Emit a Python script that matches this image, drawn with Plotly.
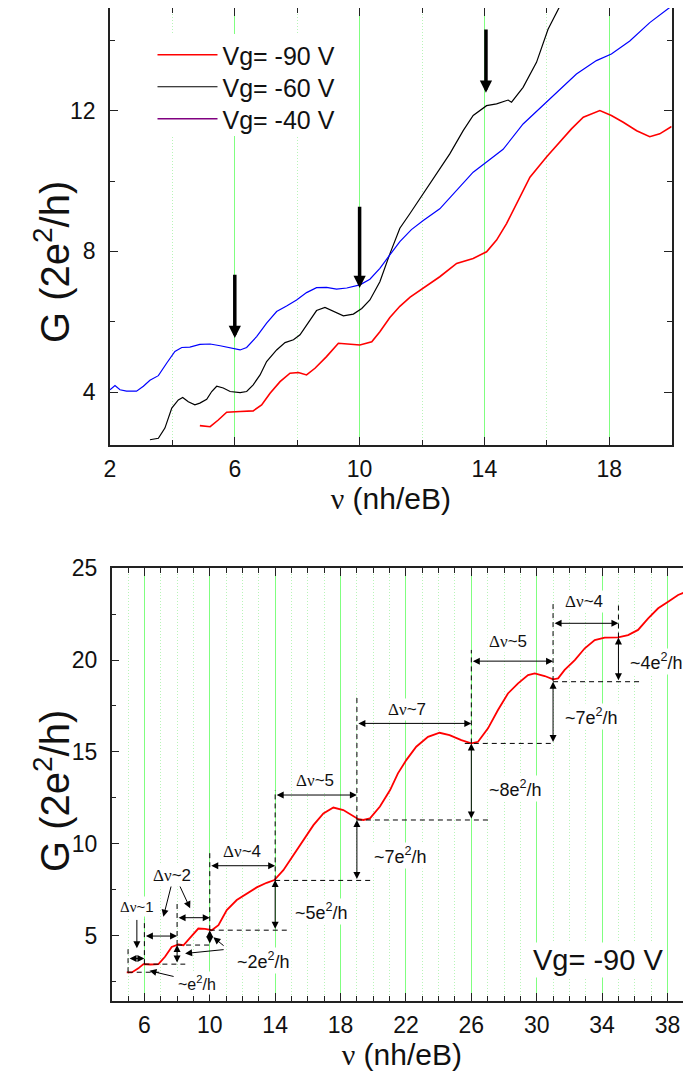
import plotly.graph_objects as go

# ---------------- top panel data (nu, G in 2e^2/h) ----------------
red_top_x = [4.88, 5.21, 5.47, 5.74, 6.17, 6.59, 6.86, 7.13, 7.45, 7.77, 8.04, 8.30, 8.57, 8.94, 9.32,
             9.64, 10.01, 10.39, 10.65, 10.97, 11.29, 11.62, 12.04, 12.57, 13.11, 13.64, 14.07, 14.39,
             14.71, 15.03, 15.46, 15.99, 16.42, 16.79, 17.17, 17.70, 18.07, 18.45, 18.88, 19.30, 19.62, 20.0]
red_top_y = [3.05, 3.02, 3.21, 3.43, 3.45, 3.47, 3.64, 3.97, 4.30, 4.54, 4.56, 4.49, 4.68, 5.01, 5.39,
             5.37, 5.34, 5.43, 5.72, 6.12, 6.44, 6.70, 6.95, 7.28, 7.66, 7.80, 7.99, 8.32,
             8.79, 9.36, 10.11, 10.68, 11.10, 11.48, 11.81, 12.00, 11.86, 11.67, 11.43, 11.26, 11.34, 11.55]

black_top_x = [3.28, 3.55, 3.76, 3.98, 4.19, 4.33, 4.51, 4.72, 4.88, 5.10, 5.26, 5.42, 5.63, 5.85, 6.17,
               6.38, 6.59, 6.81, 7.02, 7.34, 7.61, 7.88, 8.09, 8.36, 8.62, 8.89, 9.16, 9.48, 9.80, 10.07,
               10.33, 10.65, 10.97, 11.29, 11.61, 12.04, 12.47, 12.89, 13.32, 13.64, 14.07, 14.39, 14.76,
               14.87, 15.24, 15.67, 16.04, 16.42]
black_top_y = [2.65, 2.69, 2.98, 3.55, 3.78, 3.85, 3.73, 3.64, 3.69, 3.80, 4.02, 4.17, 4.12, 4.02, 3.99,
               4.02, 4.21, 4.49, 4.87, 5.20, 5.41, 5.49, 5.63, 6.00, 6.32, 6.41, 6.29, 6.17, 6.22, 6.38,
               6.62, 7.14, 7.93, 8.66, 9.07, 9.64, 10.21, 10.77, 11.43, 11.86, 12.14, 12.19, 12.30,
               12.24, 12.66, 13.37, 14.31, 14.97]

blue_top_x = [2.00, 2.16, 2.32, 2.53, 2.85, 3.07, 3.28, 3.55, 3.82, 4.08, 4.30, 4.56, 4.88, 5.21, 5.53,
              5.85, 6.17, 6.38, 6.70, 7.02, 7.34, 7.66, 7.98, 8.30, 8.62, 8.94, 9.26, 9.59, 10.01, 10.33,
              10.65, 10.97, 11.29, 11.66, 12.04, 12.57, 13.11, 13.64, 14.07, 14.60, 15.24, 16.10, 16.95,
              17.59, 18.07, 18.66, 19.30, 20.0]
blue_top_y = [4.07, 4.19, 4.07, 4.03, 4.03, 4.17, 4.34, 4.47, 4.83, 5.16, 5.27, 5.28, 5.36, 5.37, 5.32,
              5.25, 5.20, 5.27, 5.58, 5.96, 6.29, 6.45, 6.62, 6.83, 6.97, 6.98, 6.93, 6.96, 7.05, 7.21,
              7.52, 7.90, 8.28, 8.62, 8.88, 9.21, 9.73, 10.25, 10.54, 10.90, 11.62, 12.33, 13.04,
              13.42, 13.61, 13.98, 14.50, 14.97]

legend_names = ["Vg= -90 V", "Vg= -60 V", "Vg= -40 V"]

# thick arrows of the top panel: x, tail y, head y
top_arrow_x = [6.0, 10.0, 14.05]
top_arrow_from = [7.38, 9.31, 14.35]
top_arrow_to = [5.54, 6.96, 12.51]

# ---------------- bottom panel data (Vg = -90 V) ----------------
bot_x = [4.92, 5.23, 5.63, 5.94, 6.35, 6.86, 7.26, 7.67, 8.08, 8.39, 8.79, 9.30, 9.71, 10.12, 10.53,
         11.04, 11.65, 12.26, 12.87, 13.48, 13.95, 14.50, 15.11, 15.72, 16.34, 16.95, 17.56, 18.17,
         18.68, 19.09, 19.39, 19.80, 20.41, 21.03, 21.51, 22.02, 22.63, 23.35, 24.06, 24.67, 25.39,
         26.00, 26.41, 27.02, 27.63, 28.24, 28.86, 29.47, 29.88, 30.49, 31.00, 31.31, 31.71, 32.33,
         32.94, 33.55, 34.16, 34.98, 35.59, 36.20, 36.82, 37.43, 38.04, 38.65, 39.06, 39.5]
bot_y = [2.99, 2.99, 3.21, 3.44, 3.42, 3.44, 3.84, 4.38, 4.51, 4.47, 4.87, 5.38, 5.36, 5.29, 5.56,
         6.38, 6.93, 7.29, 7.62, 7.87, 8.02, 8.56, 9.38, 10.20, 11.01, 11.65, 11.97, 11.83,
         11.56, 11.33, 11.29, 11.38, 12.02, 12.92, 13.83, 14.55, 15.28, 15.82, 16.04, 15.91, 15.64,
         15.46, 15.55, 16.28, 17.28, 18.18, 18.73, 19.18, 19.27, 19.13, 18.95, 19.00, 19.46, 20.00,
         20.64, 21.09, 21.22, 21.23, 21.36, 21.64, 22.27, 22.82, 23.18, 23.54, 23.69, 23.63]

# dashed guide lines
dash_h_x0 = [4.98, 6.0, 8.0, 10.0, 14.0, 19.0, 25.6, 31.0]
dash_h_x1 = [6.9, 8.5, 10.0, 14.9, 20.0, 27.2, 31.0, 36.4]
dash_h_y = [3.0, 3.44, 4.48, 5.29, 8.0, 11.29, 15.46, 18.82]

dash_v_x = [5.0, 6.0, 8.0, 10.0, 14.0, 19.0, 26.0, 31.0, 35.0]
dash_v_y0 = [3.0, 3.44, 4.48, 5.29, 8.0, 11.29, 15.46, 18.85, 21.23]
dash_v_y1 = [4.3, 5.9, 6.85, 9.56, 12.92, 18.0, 20.55, 23.1, 23.1]

# double arrows (horizontal: delta nu, vertical: delta G)
dnu_x0 = [5.0, 6.0, 8.0, 10.0, 14.0, 19.0, 26.0, 31.0]
dnu_x1 = [6.0, 8.0, 10.0, 14.0, 19.0, 26.0, 31.0, 35.0]
dnu_y = [3.75, 4.97, 5.97, 8.80, 12.65, 16.55, 19.94, 22.0]

dg_x = [8.0, 10.0, 14.0, 19.0, 26.0, 31.0, 35.0]
dg_y0 = [3.45, 4.48, 5.29, 8.0, 11.29, 15.46, 18.82]
dg_y1 = [4.48, 5.29, 8.02, 11.29, 15.46, 18.82, 21.23]

# single pointer arrows: tail -> head
ptr_x0 = [5.54, 7.68, 8.09, 7.88, 10.94, 10.94]
ptr_y0 = [5.93, 7.84, 7.84, 2.75, 4.38, 4.24]
ptr_x1 = [5.54, 7.16, 8.80, 6.31, 10.22, 8.49]
ptr_y1 = [4.30, 6.02, 6.48, 3.08, 4.90, 4.02]

DN = '<span style="font-family:Liberation Serif">\u0394\u03bd</span>'
lab_text = [DN + "~1", DN + "~2", "~e<sup>2</sup>/h", "~2e<sup>2</sup>/h", DN + "~4", "~5e<sup>2</sup>/h",
            DN + "~5", "~7e<sup>2</sup>/h", DN + "~7", "~8e<sup>2</sup>/h", DN + "~5", "~7e<sup>2</sup>/h",
            DN + "~4", "~4e<sup>2</sup>/h", "Vg= -90 V"]
lab_x = [5.53, 7.68, 9.2, 13.28, 11.96, 16.85, 16.44, 21.64, 22.05, 28.68, 28.26, 33.36, 32.9, 37.34, 33.77]
lab_y = [6.56, 8.29, 2.39, 3.66, 9.56, 6.29, 13.46, 9.38, 17.28, 13.01, 20.99, 16.91, 23.18, 19.91, 3.66]
lab_size = [15, 17, 16, 18, 17, 18, 17, 18, 17, 18, 17, 18, 17, 18, 29]

y_title = "G (2e<sup>2</sup>/h)"
x_title = '<span style="font-family:Liberation Serif">\u03bd</span> (nh/eB)'

FONT = "Liberation Sans, Arial, sans-serif"

W, H = 691, 1077
OFF = 8  # page offset of the figure inside the html body


def dx(px):
    return (px - OFF) / W


def dy(py):
    return 1 - (py - OFF) / H


fig = go.Figure()
fig.add_trace(go.Scatter(x=red_top_x, y=red_top_y, mode="lines", name=legend_names[0], legend="legend",
                         line=dict(color="#ff0000", width=1.6), xaxis="x", yaxis="y"))
fig.add_trace(go.Scatter(x=black_top_x, y=black_top_y, mode="lines", name=legend_names[1], legend="legend2",
                         line=dict(color="#000000", width=1.2), xaxis="x", yaxis="y"))
fig.add_trace(go.Scatter(x=blue_top_x, y=blue_top_y, mode="lines", name=legend_names[2], showlegend=False,
                         line=dict(color="#0000ff", width=1.2), xaxis="x", yaxis="y"))
fig.add_trace(go.Scatter(x=[None], y=[None], mode="lines", name=legend_names[2], legend="legend3",
                         line=dict(color="#800080", width=1.5), xaxis="x", yaxis="y"))
fig.add_trace(go.Scatter(x=bot_x, y=bot_y, mode="lines", showlegend=False,
                         line=dict(color="#ff0000", width=1.8), xaxis="x2", yaxis="y2"))

axline = dict(showline=True, linecolor="#222222", linewidth=1.5, mirror="ticks", ticks="inside",
              tickcolor="#222222", tickwidth=1.3, ticklen=8, zeroline=False, automargin=False,
              tickfont=dict(family=FONT, size=23, color="#111111"))
GRID = "#80ff80"
MGRID = "#b8f5b8"

legend_common = dict(xanchor="left", yanchor="top", bgcolor="rgba(255,255,255,0)", borderwidth=0,
                     font=dict(family=FONT, size=25, color="#111111"), itemwidth=60)
LEG_X = dx(152.5)

fig.update_layout(
    width=W, height=H, margin=dict(l=0, r=0, t=0, b=0, autoexpand=False),
    paper_bgcolor="white", plot_bgcolor="white",
    font=dict(family=FONT, color="#111111"),
    xaxis=dict(**axline, domain=[dx(110), dx(671.6)], range=[2, 20], tick0=2, dtick=4,
               showgrid=True, gridcolor=GRID, gridwidth=1, ticklabelstandoff=3,
               minor=dict(tick0=2, dtick=2, ticks="inside", ticklen=5, tickcolor="#222222",
                          showgrid=True, gridcolor=MGRID, griddash="1px,2px"),
               title=dict(text=x_title, font=dict(size=30), standoff=0)),
    yaxis=dict(**axline, domain=[dy(445), 1.0], range=[2.5, 14.915], tick0=0, dtick=4,
               showgrid=False, ticklabelstandoff=8,
               minor=dict(tick0=0, dtick=2, ticks="inside", ticklen=5, tickcolor="#222222")),
    xaxis2=dict(**axline, domain=[dx(111.7), dx(692)], range=[4, 39.5], tick0=2, dtick=4,
                showgrid=True, gridcolor=GRID, gridwidth=1, ticklabelstandoff=3, anchor="y2",
                minor=dict(tick0=0, dtick=1, ticks="inside", ticklen=5, tickcolor="#222222",
                           showgrid=True, gridcolor=MGRID, griddash="1px,2px"),
                title=dict(text=x_title, font=dict(size=30), standoff=0)),
    yaxis2=dict(**axline, domain=[dy(1000.7), dy(568.2)], range=[1.45, 25.001], tick0=0,
                dtick=5, showgrid=False, ticklabelstandoff=8, anchor="x2",
                minor=dict(tick0=0, dtick=2.5, ticks="inside", ticklen=5, tickcolor="#222222")),
    legend=dict(**legend_common, x=LEG_X, y=dy(32)),
    legend2=dict(**legend_common, x=LEG_X, y=dy(64)),
    legend3=dict(**legend_common, x=LEG_X, y=dy(96)),
    showlegend=True,
)

annotations = []
# y-axis titles of the two panels
for ty in (262, 791):
    annotations.append(dict(x=dx(52), y=dy(ty), xref="paper", yref="paper", text=y_title, textangle=-90,
                            xanchor="center", yanchor="middle", showarrow=False,
                            font=dict(family=FONT, size=40, color="#111111")))
for x, y0, y1 in zip(top_arrow_x, top_arrow_from, top_arrow_to):
    annotations.append(dict(x=x, y=y1, ax=x, ay=y0, xref="x", yref="y", axref="x", ayref="y",
                            text="", showarrow=True, arrowhead=2, arrowsize=0.7, arrowwidth=3.5,
                            arrowcolor="#000000", standoff=0, startstandoff=0))
for x0, x1, y in zip(dnu_x0, dnu_x1, dnu_y):
    annotations.append(dict(x=x1, y=y, ax=x0, ay=y, xref="x2", yref="y2", axref="x2", ayref="y2",
                            text="", showarrow=True, arrowhead=2, arrowside="end+start", arrowsize=1.4,
                            arrowwidth=1, arrowcolor="#000000", standoff=0, startstandoff=0))
for x, y0, y1 in zip(dg_x, dg_y0, dg_y1):
    annotations.append(dict(x=x, y=y1, ax=x, ay=y0, xref="x2", yref="y2", axref="x2", ayref="y2",
                            text="", showarrow=True, arrowhead=2, arrowside="end+start", arrowsize=1.4,
                            arrowwidth=1, arrowcolor="#000000", standoff=0, startstandoff=0))
for x0, y0, x1, y1 in zip(ptr_x0, ptr_y0, ptr_x1, ptr_y1):
    annotations.append(dict(x=x1, y=y1, ax=x0, ay=y0, xref="x2", yref="y2", axref="x2", ayref="y2",
                            text="", showarrow=True, arrowhead=2, arrowsize=1.4,
                            arrowwidth=1, arrowcolor="#000000", standoff=0, startstandoff=0))
for t, x, y, s in zip(lab_text, lab_x, lab_y, lab_size):
    annotations.append(dict(x=x, y=y, xref="x2", yref="y2", text=t, showarrow=False,
                            font=dict(family=FONT, size=s, color="#111111"), bgcolor="white",
                            borderpad=1))
fig.update_layout(annotations=annotations)

shapes = []
# white backing of the legend block (hides the grid lines behind it)
shapes.append(dict(type="rect", xref="paper", yref="paper", x0=dx(150), x1=dx(352), y0=dy(136), y1=dy(34),
                   fillcolor="white", line=dict(width=0), layer="above"))
for x0, x1, y in zip(dash_h_x0, dash_h_x1, dash_h_y):
    shapes.append(dict(type="line", xref="x2", yref="y2", x0=x0, x1=x1, y0=y, y1=y,
                       line=dict(color="#000000", width=1, dash="5px,4px")))
for x, y0, y1 in zip(dash_v_x, dash_v_y0, dash_v_y1):
    shapes.append(dict(type="line", xref="x2", yref="y2", x0=x, x1=x, y0=y0, y1=y1,
                       line=dict(color="#000000", width=1, dash="5px,4px")))
fig.update_layout(shapes=shapes)

fig.write_html("out.html")
